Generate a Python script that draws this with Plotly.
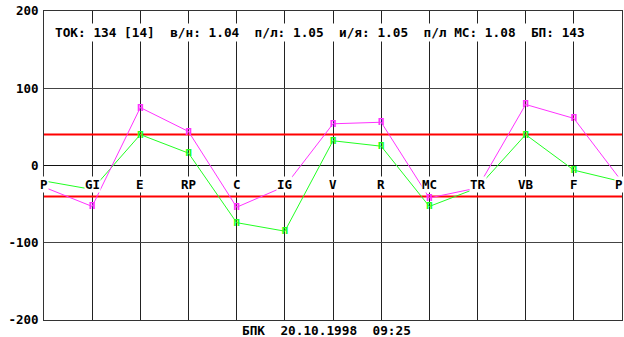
import plotly.graph_objects as go

# Category sequence around the cycle (first point repeated at the end)
labels = ["P", "GI", "E", "RP", "C", "IG", "V", "R", "MC", "TR", "VB", "F", "P"]
# Two measurement series
green_vals = [-20, -31, 40, 16, -74, -85, 32, 25, -53, -29, 40, -6, -21]
magenta_vals = [-28, -53, 75, 44, -54, -27, 54, 56, -42, -29, 79, 61, -21]
# Points whose glyph sits under a category label (glyph not drawn there)
green_hidden = ["P", "GI", "TR"]
magenta_hidden = ["P", "IG", "TR"]
# Corridor limits
upper_limit = 40
lower_limit = -40
y_ticks = [-200, -100, 0, 100, 200]

header = "ТОК: 134 [14]  в/н: 1.04  п/л: 1.05  и/я: 1.05  п/л МС: 1.08  БП: 143"
footer = "БПК  20.10.1998  09:25"

MONO = "DejaVu Sans Mono"
xs = list(range(len(labels)))

fig = go.Figure()

# Corridor lines
for lim in (upper_limit, lower_limit):
    fig.add_trace(go.Scatter(x=[xs[0], xs[-1]], y=[lim, lim], mode="lines",
                             line=dict(color="#ff0000", width=2),
                             hoverinfo="skip", showlegend=False))

# Series drawn with small "п" glyph markers
for vals, col, hidden in ((green_vals, "#22ff22", green_hidden),
                          (magenta_vals, "#ff33ff", magenta_hidden)):
    glyphs = ["" if lab in hidden else "п" for lab in labels]
    fig.add_trace(go.Scatter(
        x=xs, y=vals, mode="lines+text",
        text=glyphs, textposition="middle center",
        textfont=dict(family=MONO, size=12, color=col, weight="bold"),
        line=dict(color=col, width=1),
        showlegend=False, cliponaxis=False))

# Category labels on white boxes just below the zero line
for x, lab in zip(xs, labels):
    shift = -3 if x == xs[-1] else 0
    fig.add_annotation(x=x, y=-24, text=lab, showarrow=False, xshift=shift,
                       xanchor="center", yanchor="middle",
                       bgcolor="white", borderpad=0,
                       font=dict(family=MONO, size=12.5, color="black", weight="bold"))

fig.add_annotation(xref="paper", x=0.016, y=172, text=header, showarrow=False,
                   xanchor="left", yanchor="middle", bgcolor="white", borderpad=1,
                   font=dict(family=MONO, size=12.75, color="black", weight="bold"))

fig.add_annotation(xref="paper", yref="paper", x=0.488, y=-0.035, text=footer,
                   showarrow=False, xanchor="center", yanchor="middle",
                   font=dict(family=MONO, size=12.75, color="black", weight="bold"))

fig.update_xaxes(range=[0, 12], tickvals=xs, showticklabels=False,
                 showgrid=True, gridcolor="#222222", gridwidth=1,
                 zeroline=False, showline=True, linecolor="#333333",
                 linewidth=1, mirror=True, fixedrange=True)
fig.update_yaxes(range=[-200, 200], tickvals=y_ticks,
                 ticktext=[str(v) for v in y_ticks],
                 showgrid=True, gridcolor="#444444", gridwidth=1,
                 zeroline=True, zerolinecolor="#111111", zerolinewidth=1,
                 showline=True, linecolor="#333333", linewidth=1, mirror=True,
                 ticks="", ticklabelstandoff=2,
                 tickfont=dict(family=MONO, size=12.5, color="black", weight="bold"),
                 fixedrange=True)

fig.update_layout(width=624, height=337,
                  margin=dict(l=44, r=2, t=11, b=17),
                  paper_bgcolor="white", plot_bgcolor="white")

fig.write_html("out.html")
